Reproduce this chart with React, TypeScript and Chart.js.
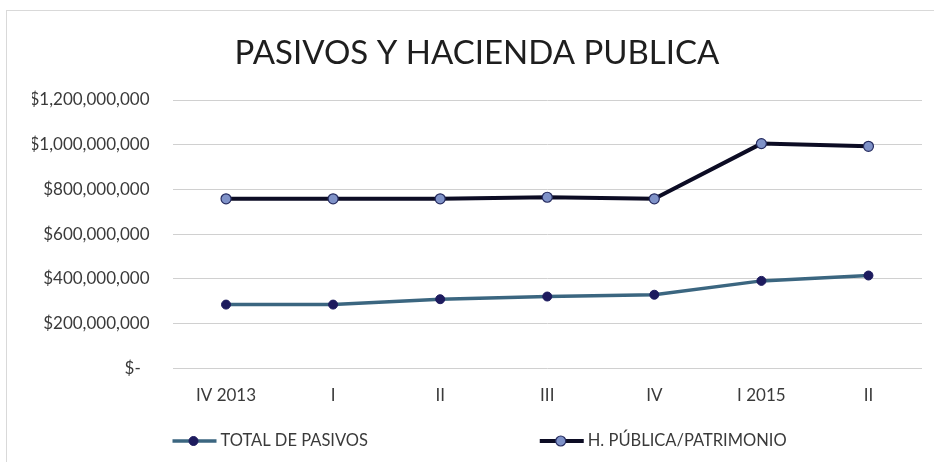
import React, { useEffect, useRef } from "react";
import { Chart, registerables } from "chart.js";

Chart.register(...registerables);

const categories = ["IV 2013", "I", "II", "III", "IV", "I 2015", "II"];
const totalPasivos = [285e6, 285e6, 309e6, 321e6, 329e6, 391e6, 415e6];
const haciendaPublica = [758e6, 758e6, 758e6, 765e6, 758e6, 1005e6, 993e6];
const seriesNames = ["TOTAL DE PASIVOS", "H. PÚBLICA/PATRIMONIO"];
const chartTitle = "PASIVOS Y HACIENDA PUBLICA";

const FONT = "Lato, 'Noto Sans', sans-serif";
const TEXT = "#3a3a3a";

const customLegend = {
  id: "customLegend",
  afterDraw(chart: any) {
    const { ctx, chartArea } = chart;
    const y = 441;
    const starts = [chartArea.left, chartArea.left + 0.49 * (chartArea.right - chartArea.left)];
    ctx.save();
    chart.data.datasets.forEach((ds: any, i: number) => {
      const x0 = starts[i];
      ctx.strokeStyle = ds.borderColor;
      ctx.lineWidth = ds.borderWidth;
      ctx.beginPath();
      ctx.moveTo(x0, y);
      ctx.lineTo(x0 + 44, y);
      ctx.stroke();
      ctx.beginPath();
      ctx.arc(x0 + 21, y, ds.pointRadius, 0, Math.PI * 2);
      ctx.fillStyle = ds.pointBackgroundColor;
      ctx.fill();
      ctx.lineWidth = ds.pointBorderWidth;
      ctx.strokeStyle = ds.pointBorderColor;
      ctx.stroke();
      ctx.fillStyle = TEXT;
      ctx.font = `16.5px ${FONT}`;
      ctx.textAlign = "left";
      ctx.textBaseline = "middle";
      ctx.fillText(ds.label, x0 + 48, y);
    });
    ctx.restore();
  },
};

export default function App() {
  const ref = useRef<HTMLCanvasElement>(null);
  useEffect(() => {
    if (!ref.current) return;
    const chart = new Chart(ref.current, {
      type: "line",
      data: {
        labels: categories,
        datasets: [
          {
            label: seriesNames[0],
            data: totalPasivos,
            borderColor: "#3b6680",
            borderWidth: 3.5,
            pointRadius: 4.5,
            pointBackgroundColor: "#1d1b5e",
            pointBorderColor: "#1d1b5e",
            pointBorderWidth: 1,
            tension: 0,
          },
          {
            label: seriesNames[1],
            data: haciendaPublica,
            borderColor: "#0c0c24",
            borderWidth: 4,
            pointRadius: 5,
            pointBackgroundColor: "#7f92c8",
            pointBorderColor: "#262c60",
            pointBorderWidth: 1.2,
            tension: 0,
          },
        ],
      },
      options: {
        animation: false,
        responsive: false,
        maintainAspectRatio: false,
        layout: { padding: { left: 32, right: 12, top: 0, bottom: 53.7 } },
        plugins: {
          legend: { display: false },
          tooltip: { enabled: false },
          title: {
            display: true,
            text: chartTitle,
            color: "#1e1e1e",
            font: { family: FONT, size: 33, weight: "normal" },
            padding: { top: 34, bottom: 26.4 },
          },
        },
        scales: {
          x: {
            offset: true,
            grid: { display: false, drawTicks: false },
            border: { display: false },
            ticks: {
              color: TEXT,
              font: { family: FONT, size: 17 },
              padding: 17,
              maxRotation: 0,
            },
            afterFit(scale: any) {
              scale.height = 40;
            },
          },
          y: {
            min: 0,
            max: 1200000000,
            grid: { color: "#d0d0d0", lineWidth: 1, drawTicks: false },
            border: { display: false },
            ticks: {
              stepSize: 200000000,
              color: TEXT,
              font: { family: FONT, size: 17 },
              padding: 23,
              callback: (v: any) =>
                Number(v) === 0 ? "$-  " : "$" + Number(v).toLocaleString("en-US"),
            },
            afterFit(scale: any) {
              scale.width = 140.5;
            },
          },
        },
      },
      plugins: [customLegend],
    });
    return () => chart.destroy();
  }, []);
  return (
    <div style={{ position: "absolute", left: 0, top: 0, width: 934, height: 462, overflow: "hidden", background: "#fff" }}>
      <div
        style={{
          position: "absolute",
          left: 6,
          top: 10,
          width: 980,
          height: 500,
          border: "1px solid #d9d9d9",
        }}
      />
      <canvas ref={ref} width={934} height={462} style={{ position: "absolute", left: 0, top: 0, width: 934, height: 462 }} />
    </div>
  );
}
